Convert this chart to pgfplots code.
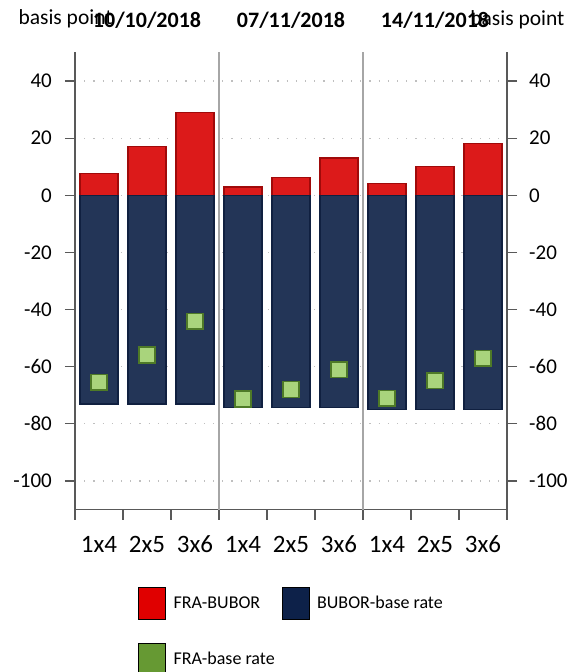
\documentclass[border=0pt]{standalone}
\usepackage{pgfplots}
\pgfplotsset{compat=1.18}
\usepackage{fontspec}
\setmainfont{Carlito}
\definecolor{barred}{HTML}{DC1A1A}
\definecolor{barreddraw}{HTML}{A00A0A}
\definecolor{barnavy}{HTML}{233557}
\definecolor{barnavydraw}{HTML}{102040}
\definecolor{sqfill}{HTML}{A9D47C}
\definecolor{sqdraw}{HTML}{4E7A27}
\definecolor{legred}{HTML}{E00000}
\definecolor{legnavy}{HTML}{0D2149}
\definecolor{leggreen}{HTML}{669933}
\definecolor{axisgray}{HTML}{595959}
\definecolor{sepgray}{HTML}{A6A6A6}
\definecolor{gridgray}{HTML}{BFBFBF}

\pgfplotstableread{
x fraBubor buborBase fraBase
0 7.6  -73.1 -65.5
1 17.2 -73.1 -55.9
2 29.0 -73.1 -44.1
3 2.9  -74.2 -71.3
4 6.2  -74.2 -68.0
5 13.1 -74.2 -61.1
6 4.1  -75.1 -71.0
7 10.2 -75.1 -64.9
8 18.1 -75.1 -57.0
}\datatable

\begin{document}
\begin{tikzpicture}
\path[use as bounding box] (-75pt,-162.5pt) rectangle (500pt,509.5pt);
\begin{axis}[
  at={(0pt,0pt)}, anchor=south west,
  scale only axis, width=432pt, height=457pt,
  xmin=-0.5, xmax=8.5, ymin=-110, ymax=50,
  axis x line*=bottom, axis y line*=left,
  axis line style={draw=axisgray, line width=1.3pt},
  tick align=outside,
  major tick length=10pt,
  tick style={draw=axisgray, line width=1.3pt},
  ytick={-100,-80,-60,-40,-20,0,20,40},
  yticklabels={-100,-80,-60,-40,-20,0,20,40},
  yticklabel style={font=\fontsize{21}{21}\selectfont, inner sep=0pt, anchor=east, xshift=-13pt},
  xtick={-0.5,0.5,1.5,2.5,3.5,4.5,5.5,6.5,7.5,8.5},
  xticklabels={1x4,2x5,3x6,1x4,2x5,3x6,1x4,2x5,3x6,{}},
  xticklabel style={font=\fontsize{25}{25}\selectfont, inner sep=0pt, anchor=base, xshift=24pt, yshift=-33pt},
  ymajorgrids,
  grid style={draw=gridgray, line width=1.2pt, dash pattern=on 1.2pt off 8pt},
  clip=false,
  legend columns=2,
  legend cell align=left,
  legend image code/.code={\fill[#1] (0pt,-16pt) rectangle (27pt,16pt);},
  legend style={at={(axis description cs:0.1458,-0.1696)}, anchor=north west,
    draw=none, fill=none, inner sep=0pt, row sep=23pt,
    font=\fontsize{18}{18}\selectfont,
    nodes={inner sep=0pt},
    /tikz/every even column/.append style={column sep=7pt},
    /tikz/every odd column/.append style={column sep=8pt}},
]
\draw[sepgray, line width=1.3pt] (axis cs:2.5,-110) -- (axis cs:2.5,50);
\draw[sepgray, line width=1.3pt] (axis cs:5.5,-110) -- (axis cs:5.5,50);
\addplot[ybar, bar width=38pt, bar shift=0pt, fill=barred, draw=barreddraw, line width=1.3pt, forget plot]
  table[x=x, y=fraBubor] {\datatable};
\addplot[ybar, bar width=38pt, bar shift=0pt, fill=barnavy, draw=barnavydraw, line width=1.3pt, forget plot]
  table[x=x, y=buborBase] {\datatable};
\addplot[only marks, mark=square*, mark size=7.8pt, mark options={fill=sqfill, draw=sqdraw, line width=1.5pt}, forget plot]
  table[x=x, y=fraBase] {\datatable};
\addlegendimage{fill=legred}
\addlegendentry{FRA-BUBOR}
\addlegendimage{fill=legnavy}
\addlegendentry{BUBOR-base rate}
\addlegendimage{fill=leggreen}
\addlegendentry{FRA-base rate}
\end{axis}
\begin{axis}[
  at={(0pt,0pt)}, anchor=south west,
  scale only axis, width=432pt, height=457pt,
  xmin=-0.5, xmax=8.5, ymin=-110, ymax=50,
  axis x line=none, axis y line*=right,
  axis line style={draw=axisgray, line width=1.3pt},
  tick align=outside,
  major tick length=10pt,
  tick style={draw=axisgray, line width=1.3pt},
  ytick={-100,-80,-60,-40,-20,0,20,40},
  yticklabels={-100,-80,-60,-40,-20,0,20,40},
  yticklabel style={font=\fontsize{21}{21}\selectfont, inner sep=0pt, anchor=west, xshift=12pt},
]
\addplot[draw=none, forget plot] coordinates {(0,0)};
\end{axis}
\node[anchor=base west, font=\fontsize{21.5}{21.5}\selectfont] at (-60pt,484.5pt) {basis point};
\node[anchor=base east, font=\fontsize{21.5}{21.5}\selectfont] at (493pt,483.5pt) {basis point};
\node[anchor=base, font=\bfseries\fontsize{22}{22}\selectfont] at (72pt,481.5pt) {10/10/2018};
\node[anchor=base, font=\bfseries\fontsize{22}{22}\selectfont] at (216pt,481.5pt) {07/11/2018};
\node[anchor=base, font=\bfseries\fontsize{22}{22}\selectfont] at (360pt,481.5pt) {14/11/2018};
\end{tikzpicture}
\end{document}
